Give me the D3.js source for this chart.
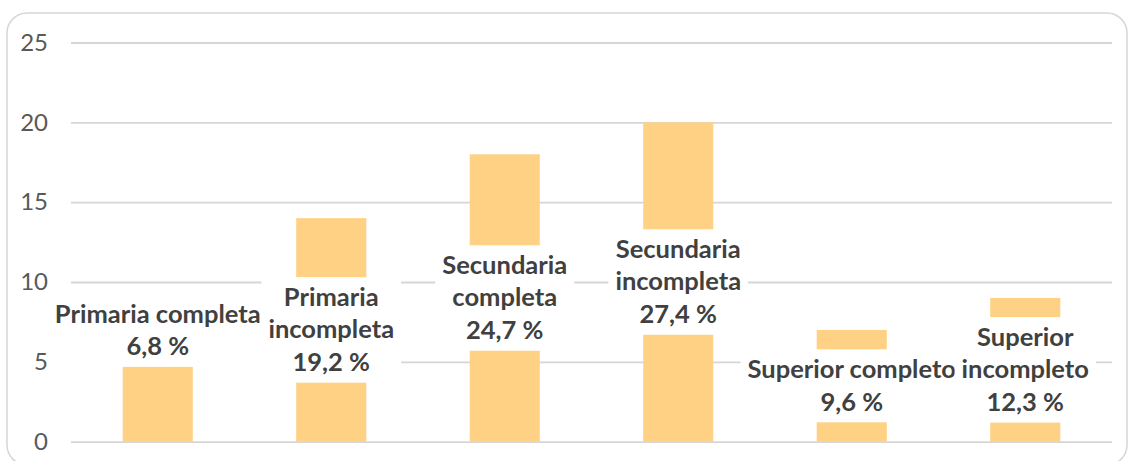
<!DOCTYPE html>
<html>
<head>
<meta charset="utf-8">
<script src="https://cdn.jsdelivr.net/npm/d3@7"></script>
<style>
  html, body { margin: 0; padding: 0; background: #fff; }
  svg { display: block; }
</style>
</head>
<body>
<svg id="chart" width="1129" height="461"></svg>
<script>
// Nivel educativo: number of respondents per category (n = 73)
const categories = [
  "Primaria completa",
  "Primaria incompleta",
  "Secundaria completa",
  "Secundaria incompleta",
  "Superior completo",
  "Superior incompleto"
];
const counts = [5, 14, 18, 20, 7, 9];
const yTicks = [0, 5, 10, 15, 20, 25];

const W = 1129, H = 461;
const margin = { top: 42.5, right: 17, bottom: 19.3, left: 71 };
const barColor = "#ffd185";
const gridColor = "#d6d6d6";
const textColor = "#404040";
const labelFont = "Lato, 'Open Sans', sans-serif";
const labelSize = 25.5;
const lineH = 32.5;
const wrapWidth = 212;
const padX = 7, padY = 4;

const svg = d3.select("#chart");

// outer chart frame
svg.append("rect")
  .attr("x", 7).attr("y", 13)
  .attr("width", 1120).attr("height", 452)
  .attr("rx", 20).attr("ry", 20)
  .attr("fill", "#fff")
  .attr("stroke", gridColor)
  .attr("stroke-width", 1.5);

const x = d3.scaleBand()
  .domain(categories)
  .range([margin.left, W - margin.right])
  .paddingInner(0.596)
  .paddingOuter(0.298);

const y = d3.scaleLinear()
  .domain([0, 25])
  .range([H - margin.bottom, margin.top]);

// horizontal gridlines + value axis labels
const yAxis = d3.axisLeft(y)
  .tickValues(yTicks)
  .tickSize(-(W - margin.right - margin.left))
  .tickPadding(23)
  .tickFormat(d3.format("d"));

const gAxis = svg.append("g")
  .attr("transform", `translate(${margin.left},0)`)
  .call(yAxis);
gAxis.select(".domain").remove();
gAxis.selectAll(".tick line")
  .attr("stroke", gridColor)
  .attr("stroke-width", 1.8);
gAxis.selectAll(".tick text")
  .attr("fill", "#595959")
  .style("font-family", labelFont)
  .style("font-size", "24px");

// bars
svg.append("g").selectAll("rect")
  .data(categories)
  .join("rect")
  .attr("x", d => x(d))
  .attr("width", x.bandwidth())
  .attr("y", (d, i) => y(counts[i]))
  .attr("height", (d, i) => y(0) - y(counts[i]))
  .attr("fill", barColor);

// data labels: category name + share of total, on a white box
const total = d3.sum(counts);
const pct = v => (v / total * 100).toFixed(1).replace(".", ",") + " %";

const measurer = svg.append("text")
  .style("font-family", labelFont)
  .style("font-size", labelSize + "px")
  .style("font-weight", 700)
  .attr("visibility", "hidden");
const textWidth = s => { measurer.text(s); return measurer.node().getComputedTextLength(); };

function wrap(label) {
  const words = label.split(" ");
  const lines = [];
  let cur = "";
  for (const w of words) {
    const test = cur ? cur + " " + w : w;
    if (cur && textWidth(test) > wrapWidth) { lines.push(cur); cur = w; }
    else cur = test;
  }
  if (cur) lines.push(cur);
  return lines;
}

const labels = svg.append("g");
categories.forEach((cat, i) => {
  const lines = wrap(cat).concat([pct(counts[i])]);
  const cx = x(cat) + x.bandwidth() / 2;
  const top = y(counts[i]), base = y(0);
  const boxH = lines.length * lineH + 2 * padY;
  let cy = (top + base) / 2;
  // a bar too short to hold its label gets the label resting on its top
  if (boxH > (base - top) - 10) cy = top + 5 - boxH / 2;
  const boxW = d3.max(lines, textWidth) + 2 * padX;

  const g = labels.append("g");
  g.append("rect")
    .attr("x", cx - boxW / 2)
    .attr("y", cy - boxH / 2)
    .attr("width", boxW)
    .attr("height", boxH)
    .attr("fill", "#fff");
  const first = cy - boxH / 2 + padY + lineH * 0.76;
  g.selectAll("text")
    .data(lines)
    .join("text")
    .attr("x", cx)
    .attr("y", (d, j) => first + j * lineH)
    .attr("text-anchor", "middle")
    .attr("fill", textColor)
    .style("font-family", labelFont)
    .style("font-size", labelSize + "px")
    .style("font-weight", 700)
    .text(d => d);
});
measurer.remove();
</script>
</body>
</html>
